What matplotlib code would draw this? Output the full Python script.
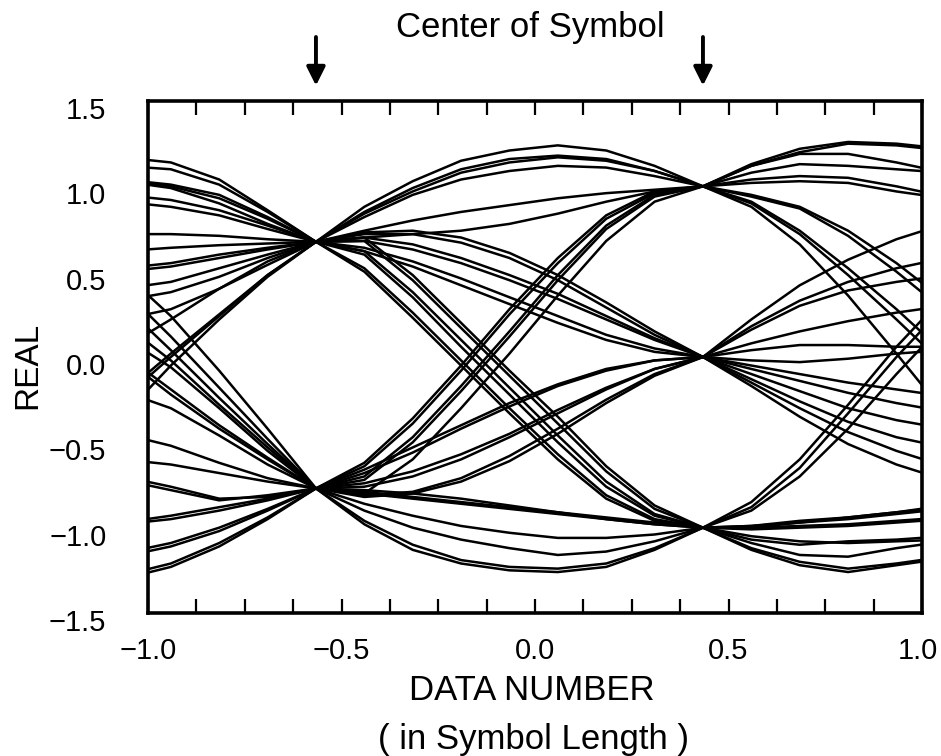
import numpy as np
import matplotlib.pyplot as plt
from matplotlib import transforms

plt.rcParams['font.family'] = ['Liberation Sans', 'DejaVu Sans']

# sample positions of the waveform (8 samples per symbol)
sample_x = [-1.066, -0.941, -0.816, -0.691, -0.566, -0.441, -0.316, -0.191, -0.066,
            0.059, 0.184, 0.309, 0.434, 0.559, 0.684, 0.809, 0.934, 1.059]

symbol_centers = [-0.566, 0.434]

# traces grouped by level at 1st symbol center -> level at 2nd symbol center
upper_to_top = [
    [1.17, 1.14, 1.04, 0.86, 0.675, 0.88, 1.03, 1.15, 1.21, 1.24, 1.21, 1.12, 1.0, 1.13, 1.22, 1.26, 1.25, 1.22],
    [-0.25, 0.0, 0.24, 0.48, 0.675, 0.82, 0.95, 1.04, 1.09, 1.12, 1.11, 1.06, 1.0, 1.12, 1.19, 1.19, 1.14, 1.08],
    [0.62, 0.64, 0.655, 0.665, 0.675, 0.74, 0.80, 0.85, 0.89, 0.93, 0.96, 0.98, 1.0, 1.08, 1.13, 1.12, 1.10, 1.08],
    [0.95, 0.92, 0.86, 0.77, 0.675, 0.84, 0.97, 1.08, 1.14, 1.17, 1.15, 1.09, 1.0, 1.04, 1.06, 1.05, 1.00, 0.94],
    [0.72, 0.72, 0.71, 0.69, 0.675, 0.70, 0.72, 0.74, 0.78, 0.84, 0.91, 0.97, 1.0, 0.91, 0.74, 0.52, 0.28, 0.02],
    [1.04, 1.01, 0.95, 0.82, 0.675, 0.85, 0.99, 1.10, 1.16, 1.18, 1.16, 1.09, 1.0, 0.94, 0.87, 0.71, 0.50, 0.27],
]
upper_to_mid = [
    [1.03, 0.99, 0.90, 0.78, 0.675, 0.70, 0.66, 0.58, 0.48, 0.37, 0.24, 0.11, 0.0, 0.22, 0.42, 0.57, 0.69, 0.78],
    [0.50, 0.53, 0.58, 0.63, 0.675, 0.64, 0.56, 0.46, 0.35, 0.24, 0.13, 0.05, 0.0, -0.05, -0.10, -0.15, -0.19, -0.23],
    [-0.35, -0.05, 0.22, 0.47, 0.675, 0.72, 0.72, 0.67, 0.58, 0.45, 0.29, 0.13, 0.0, -0.13, -0.26, -0.38, -0.47, -0.53],
    [1.12, 1.10, 1.01, 0.85, 0.675, 0.62, 0.53, 0.42, 0.31, 0.20, 0.10, 0.03, 0.0, 0.08, 0.15, 0.21, 0.26, 0.30],
    [-0.22, 0.02, 0.25, 0.48, 0.675, 0.68, 0.63, 0.55, 0.45, 0.34, 0.22, 0.10, 0.0, -0.02, -0.03, -0.01, 0.02, 0.04],
    [0.40, 0.44, 0.52, 0.60, 0.675, 0.73, 0.74, 0.70, 0.61, 0.48, 0.32, 0.15, 0.0, -0.17, -0.35, -0.51, -0.63, -0.72],
]
upper_to_bottom = [
    [0.91, 0.88, 0.83, 0.75, 0.675, 0.50, 0.23, -0.05, -0.33, -0.60, -0.83, -0.96, -1.0, -0.99, -0.96, -0.94, -0.91, -0.88],
    [0.33, 0.38, 0.47, 0.58, 0.675, 0.70, 0.48, 0.20, -0.08, -0.35, -0.64, -0.87, -1.0, -1.13, -1.22, -1.26, -1.22, -1.18],
    [0.05, 0.22, 0.40, 0.56, 0.675, 0.62, 0.38, 0.10, -0.18, -0.46, -0.73, -0.92, -1.0, -0.88, -0.65, -0.33, 0.0, 0.30],
    [1.03, 1.00, 0.93, 0.81, 0.675, 0.52, 0.26, -0.02, -0.30, -0.57, -0.81, -0.95, -1.0, -1.0, -0.99, -0.98, -0.96, -0.94],
    [0.52, 0.55, 0.60, 0.64, 0.675, 0.68, 0.45, 0.17, -0.11, -0.39, -0.67, -0.89, -1.0, -0.85, -0.60, -0.28, 0.06, 0.36],
    [0.22, 0.28, 0.40, 0.54, 0.675, 0.60, 0.35, 0.06, -0.22, -0.50, -0.76, -0.93, -1.0, -1.07, -1.10, -1.08, -1.07, -1.05],
]
lower_to_top = [
    [0.31, 0.04, -0.24, -0.51, -0.77, -0.72, -0.50, -0.20, 0.12, 0.45, 0.75, 0.94, 1.0, 0.90, 0.72, 0.48, 0.22, -0.05],
    [-0.60, -0.63, -0.68, -0.73, -0.77, -0.62, -0.36, -0.05, 0.28, 0.58, 0.83, 0.97, 1.0, 1.02, 1.03, 1.02, 0.97, 0.93],
    [-1.17, -1.11, -1.02, -0.90, -0.77, -0.80, -0.60, -0.30, 0.02, 0.36, 0.68, 0.91, 1.0, 0.88, 0.66, 0.36, 0.02, -0.33],
    [0.00, -0.22, -0.42, -0.60, -0.77, -0.70, -0.47, -0.17, 0.15, 0.48, 0.77, 0.95, 1.0, 1.12, 1.20, 1.25, 1.24, 1.21],
    [-1.15, -1.09, -1.00, -0.89, -0.77, -0.64, -0.39, -0.08, 0.25, 0.55, 0.81, 0.96, 1.0, 0.95, 0.88, 0.74, 0.55, 0.33],
]
lower_to_mid = [
    [0.02, -0.19, -0.40, -0.59, -0.77, -0.76, -0.70, -0.60, -0.47, -0.33, -0.19, -0.07, 0.0, 0.16, 0.30, 0.39, 0.44, 0.48],
    [-0.70, -0.76, -0.83, -0.82, -0.77, -0.68, -0.56, -0.42, -0.29, -0.17, -0.08, -0.02, 0.0, -0.10, -0.20, -0.30, -0.37, -0.42],
    [-1.30, -1.23, -1.11, -0.95, -0.77, -0.81, -0.79, -0.71, -0.58, -0.42, -0.25, -0.10, 0.0, 0.04, 0.07, 0.07, 0.06, 0.06],
    [0.12, -0.06, -0.30, -0.55, -0.77, -0.74, -0.67, -0.57, -0.45, -0.31, -0.18, -0.07, 0.0, -0.07, -0.14, -0.21, -0.27, -0.32],
    [-0.20, -0.30, -0.46, -0.63, -0.77, -0.66, -0.53, -0.40, -0.27, -0.16, -0.07, -0.02, 0.0, 0.18, 0.33, 0.44, 0.52, 0.58],
    [0.20, -0.02, -0.28, -0.53, -0.77, -0.82, -0.80, -0.73, -0.61, -0.45, -0.27, -0.11, 0.0, -0.15, -0.30, -0.44, -0.55, -0.64],
]
lower_to_bottom = [
    [0.50, 0.24, -0.08, -0.42, -0.77, -0.98, -1.13, -1.21, -1.25, -1.26, -1.23, -1.13, -1.0, -1.12, -1.20, -1.24, -1.21, -1.17],
    [-0.45, -0.52, -0.62, -0.71, -0.77, -0.80, -0.83, -0.86, -0.89, -0.92, -0.95, -0.98, -1.0, -0.99, -0.97, -0.95, -0.92, -0.89],
    [-0.98, -0.95, -0.90, -0.84, -0.77, -0.90, -1.00, -1.07, -1.12, -1.16, -1.14, -1.08, -1.0, -1.09, -1.16, -1.17, -1.12, -1.08],
    [-1.28, -1.21, -1.09, -0.94, -0.77, -0.86, -0.93, -0.99, -1.03, -1.06, -1.06, -1.04, -1.0, -0.90, -0.70, -0.42, -0.10, 0.20],
    [-0.72, -0.78, -0.84, -0.81, -0.77, -0.78, -0.80, -0.83, -0.87, -0.91, -0.95, -0.98, -1.0, -1.01, -1.0, -0.99, -0.97, -0.95],
    [0.40, 0.12, -0.18, -0.48, -0.77, -0.96, -1.10, -1.19, -1.23, -1.24, -1.21, -1.12, -1.0, -1.05, -1.08, -1.09, -1.08, -1.07],
    [-0.97, -0.93, -0.88, -0.83, -0.77, -0.79, -0.82, -0.85, -0.88, -0.91, -0.94, -0.97, -1.0, -1.0, -0.97, -0.94, -0.91, -0.87],
]

x_major = [-1.0, -0.5, 0.0, 0.5, 1.0]
x_major_labels = ['\u22121.0', '\u22120.5', '0.0', '0.5', '1.0']
x_minor = [-0.875, -0.75, -0.625, -0.375, -0.25, -0.125, 0.125, 0.25, 0.375, 0.625, 0.75, 0.875]
y_ticks = [-1.5, -1.0, -0.5, 0.0, 0.5, 1.0, 1.5]
y_tick_labels = ['\u22121.5', '\u22121.0', '\u22120.5', '0.0', '0.5', '1.0', '1.5']

fig = plt.figure(figsize=(9.41, 7.56), dpi=100)
ax = fig.add_axes([148/941, 143/756, 774/941, 512/756])

for group in [upper_to_top, upper_to_mid, upper_to_bottom,
              lower_to_top, lower_to_mid, lower_to_bottom]:
    for trace in group:
        ax.plot(sample_x, trace, color='black', lw=1.8, solid_joinstyle='round')

ax.set_xlim(-1, 1)
ax.set_ylim(-1.5, 1.5)

for s in ax.spines.values():
    s.set_linewidth(2.6)

ax.set_xticks(x_major)
ax.set_xticklabels(x_major_labels)
ax.set_xticks(x_minor, minor=True)
ax.tick_params(axis='x', which='both', direction='in', top=True, bottom=True,
               length=10, width=1.6, pad=17, labelsize=21)
ax.set_yticks(y_ticks)
ax.set_yticklabels(y_tick_labels)
ax.tick_params(axis='y', which='both', length=0, pad=30, labelsize=21)

# y tick labels sit a little below their value in the original
shift = transforms.ScaledTranslation(0, -0.07, fig.dpi_scale_trans)
for lab in ax.get_yticklabels():
    lab.set_transform(lab.get_transform() + shift)
# keep the last x label inside the figure
last = ax.get_xticklabels()[-1]
last.set_transform(last.get_transform() + transforms.ScaledTranslation(-0.04, 0, fig.dpi_scale_trans))

# arrows marking the symbol centers
trans = transforms.blended_transform_factory(ax.transData, ax.transAxes)
for xc in symbol_centers:
    ax.annotate('', xy=(xc, 1.03), xytext=(xc, 1.125), xycoords=trans, textcoords=trans,
                arrowprops=dict(arrowstyle='-|>', color='black', lw=2.8,
                                mutation_scale=28, shrinkA=0, shrinkB=0))

fig.text(530/941, 1 - 28/756, 'Center of Symbol', ha='center', va='center', fontsize=25)
fig.text(532/941, 1 - 690/756, 'DATA NUMBER', ha='center', va='center', fontsize=25)
fig.text(533/941, 1 - 740/756, '( in Symbol Length )', ha='center', va='center', fontsize=25)
fig.text(28/941, 1 - 365/756, 'REAL', ha='center', va='center', fontsize=24, rotation=90)

plt.savefig('out.png', dpi=100)
